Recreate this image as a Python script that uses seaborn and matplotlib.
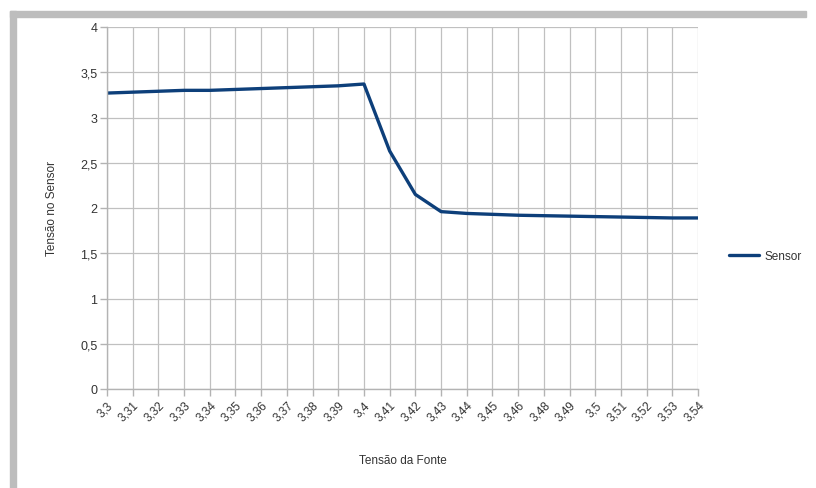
import matplotlib
matplotlib.use("Agg")
import matplotlib.pyplot as plt
import seaborn as sns
import pandas as pd
from matplotlib.lines import Line2D
from matplotlib.patches import Rectangle

categories = ["3,3", "3,31", "3,32", "3,33", "3,34", "3,35", "3,36", "3,37", "3,38", "3,39",
              "3,4", "3,41", "3,42", "3,43", "3,44", "3,45", "3,46", "3,48", "3,49", "3,5",
              "3,51", "3,52", "3,53", "3,54"]
sensor = [3.27, 3.28, 3.29, 3.30, 3.30, 3.31, 3.32, 3.33, 3.34, 3.35,
          3.37, 2.63, 2.15, 1.96, 1.94, 1.93, 1.92, 1.915, 1.91, 1.905,
          1.90, 1.895, 1.89, 1.89]
y_ticks = [0, 0.5, 1, 1.5, 2, 2.5, 3, 3.5, 4]
y_labels = ["0", "0,5", "1", "1,5", "2", "2,5", "3", "3,5", "4"]

df = pd.DataFrame({"Tensão da Fonte": categories, "Sensor": sensor})

sns.set_style("white")
plt.rcParams["font.family"] = ["Liberation Sans", "DejaVu Sans"]

fig = plt.figure(figsize=(8.16, 4.89), dpi=100)
W, H = 816, 489
ax = fig.add_axes([107 / W, 1 - 390 / H, (698 - 107) / W, (390 - 28) / H])

sns.lineplot(data=df, x="Tensão da Fonte", y="Sensor", ax=ax, sort=False,
             color="#0d3f7a", linewidth=2.4, legend=False)

ax.set_xlim(0, len(categories) - 1)
ax.set_ylim(0, 4)
ax.set_xticks(range(len(categories)))
ax.set_xticklabels(categories, rotation=45, ha="right", rotation_mode="anchor",
                   fontsize=8.5, color="#333333")
ax.set_yticks(y_ticks)
ax.set_yticklabels(y_labels, fontsize=9, color="#333333")
ax.grid(True, color="#c0c0c0", linewidth=0.9)
ax.set_axisbelow(True)
for s in ["top", "right"]:
    ax.spines[s].set_visible(False)
for s in ["left", "bottom"]:
    ax.spines[s].set_color("#b3b3b3")
    ax.spines[s].set_linewidth(1.0)
ax.tick_params(axis="both", which="both", length=5, color="#b3b3b3", width=1.0,
               direction="out", pad=2, left=True, bottom=True)

ax.set_xlabel("Tensão da Fonte", fontsize=8.5, color="#333333", labelpad=22)
ax.set_ylabel("Tensão no Sensor", fontsize=8.5, color="#333333", labelpad=16)

handle = Line2D([0], [0], color="#0d3f7a", linewidth=2.4)
fig.legend([handle], ["Sensor"], loc="center left",
           bbox_to_anchor=(718 / W, 1 - 257 / H), frameon=False,
           fontsize=8.5, handlelength=2.6, handletextpad=0.4,
           labelcolor="#333333")

# selection frame of the screenshot
fig.patches.append(Rectangle((10 / W, 0), 6 / W, 1 - 12 / H, transform=fig.transFigure,
                             color="#bdbdbd", zorder=-1))
fig.patches.append(Rectangle((10 / W, 1 - 18 / H), 1 - 20 / W, 6 / H, transform=fig.transFigure,
                             color="#bdbdbd", zorder=-1))

fig.savefig("out.png", dpi=100)
